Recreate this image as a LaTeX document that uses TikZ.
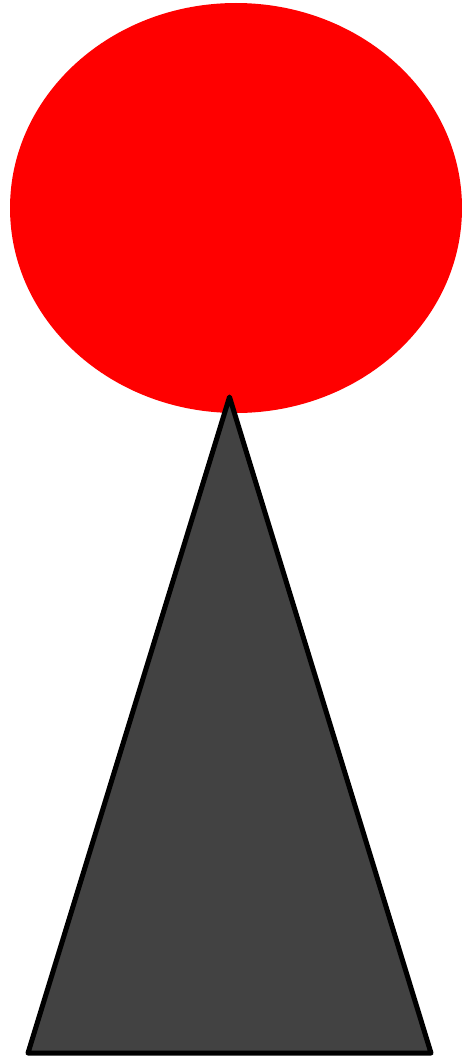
\documentclass[tikz,border=0pt]{standalone}
\definecolor{balloonred}{RGB}{255,0,0}
\definecolor{conegray}{RGB}{66,66,66}
\tikzset{
  balloon/.style={fill=balloonred, draw=none},
  cone/.style={fill=conegray, draw=black, line width=5pt, line join=round}
}
\begin{document}
\begin{tikzpicture}[x=1pt,y=-1pt]
\useasboundingbox (0,0) rectangle (462,1057);
\fill[balloon] (236,208) ellipse [x radius=226, y radius=205];
\draw[cone] (229.5,397) -- (28,1053) -- (431,1053) -- cycle;
\end{tikzpicture}
\end{document}
